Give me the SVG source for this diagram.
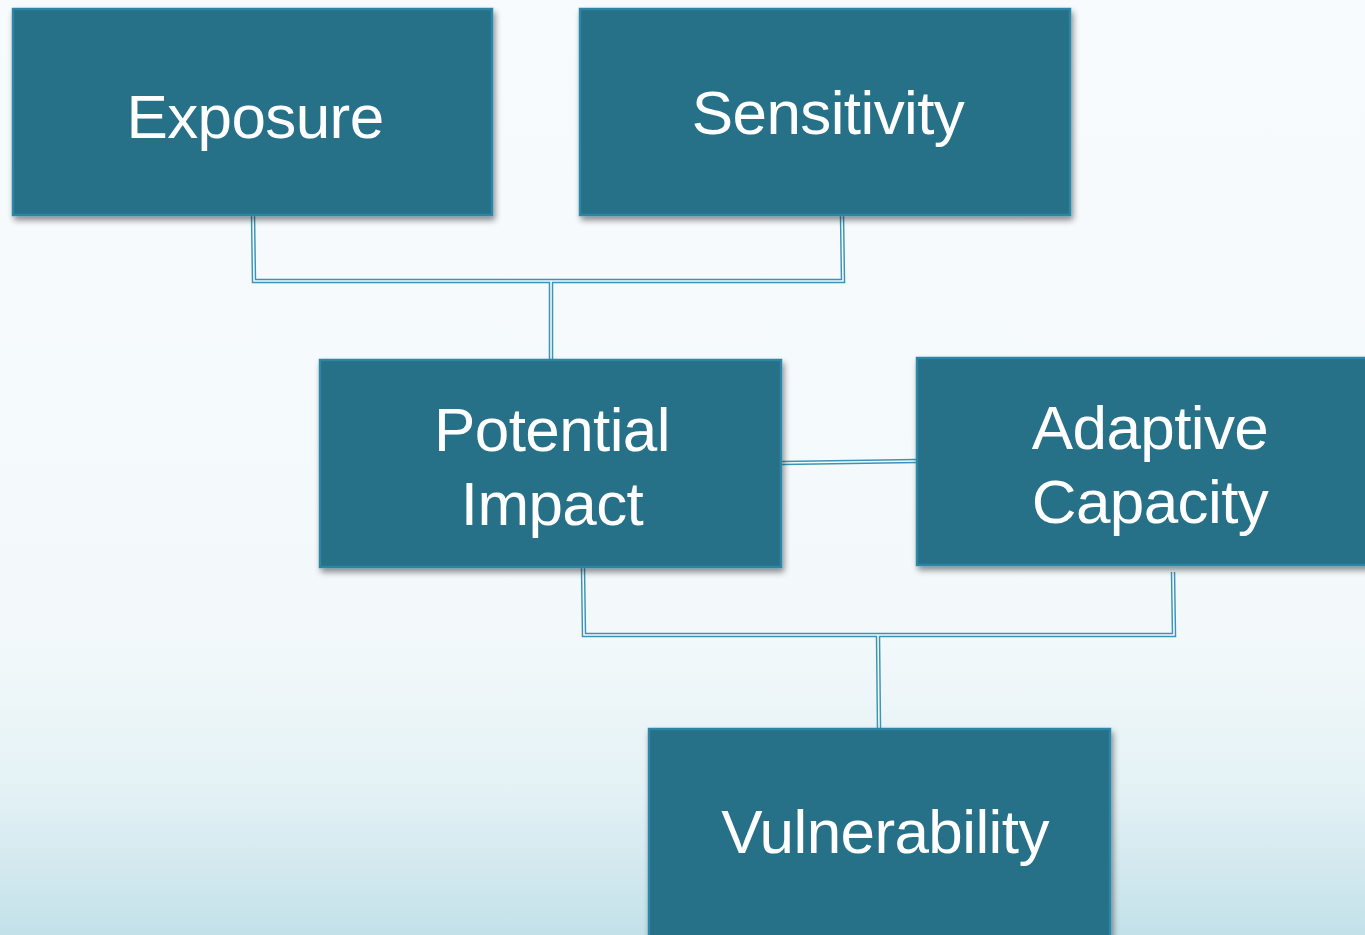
<svg xmlns="http://www.w3.org/2000/svg" width="1365" height="935" viewBox="0 0 1365 935">
<defs>
<linearGradient id="bg" x1="0" y1="0" x2="0" y2="1">
<stop offset="0" stop-color="#f8fbfd"/>
<stop offset="0.68" stop-color="#f3f9fb"/>
<stop offset="0.85" stop-color="#e3f1f5"/>
<stop offset="1" stop-color="#c3e1e9"/>
</linearGradient>
<filter id="sh" x="-10%" y="-10%" width="130%" height="130%">
<feGaussianBlur in="SourceAlpha" stdDeviation="3"/>
<feOffset dx="2" dy="4"/>
<feComponentTransfer><feFuncA type="linear" slope="0.45"/></feComponentTransfer>
<feMerge><feMergeNode/><feMergeNode in="SourceGraphic"/></feMerge>
</filter>
<style>
.box{fill:#266f88;stroke:#2f86a6;stroke-width:2.5;filter:url(#sh)}
.lbl{font-family:"Liberation Sans","Helvetica Neue",Arial,sans-serif;font-size:62px;fill:#ffffff;text-anchor:middle;letter-spacing:-0.6px}
.outer{fill:none;stroke:#3b94b7;stroke-width:4.5}
.inner{fill:none;stroke:#f4fafc;stroke-width:1.6}
</style>
</defs>
<rect width="1365" height="935" fill="url(#bg)"/>
<g id="connectors">
<path class="outer" d="M253 215 L254 281 L843 281 L842 215 M551 281 L551 360 M782 463 L917 461 M583 568 L584 635 L1174 635 L1173 572 M878 635 L879 729"/>
<path class="inner" d="M253 215 L254 281 L843 281 L842 215 M551 281 L551 360 M782 463 L917 461 M583 568 L584 635 L1174 635 L1173 572 M878 635 L879 729"/>
</g>
<g id="exposure"><rect class="box" x="13" y="9" width="479" height="206"/><text class="lbl" x="255" y="138">Exposure</text></g>
<g id="sensitivity"><rect class="box" x="580" y="9" width="490" height="206"/><text class="lbl" x="828" y="134">Sensitivity</text></g>
<g id="potential-impact"><rect class="box" x="320" y="360" width="461" height="207"/><text class="lbl" x="552" y="451">Potential</text><text class="lbl" x="552" y="525">Impact</text></g>
<g id="adaptive-capacity"><rect class="box" x="917" y="358" width="460" height="207"/><text class="lbl" x="1150" y="449">Adaptive</text><text class="lbl" x="1150" y="523">Capacity</text></g>
<g id="vulnerability"><rect class="box" x="649" y="729" width="461" height="220"/><text class="lbl" x="885" y="853">Vulnerability</text></g>
</svg>
